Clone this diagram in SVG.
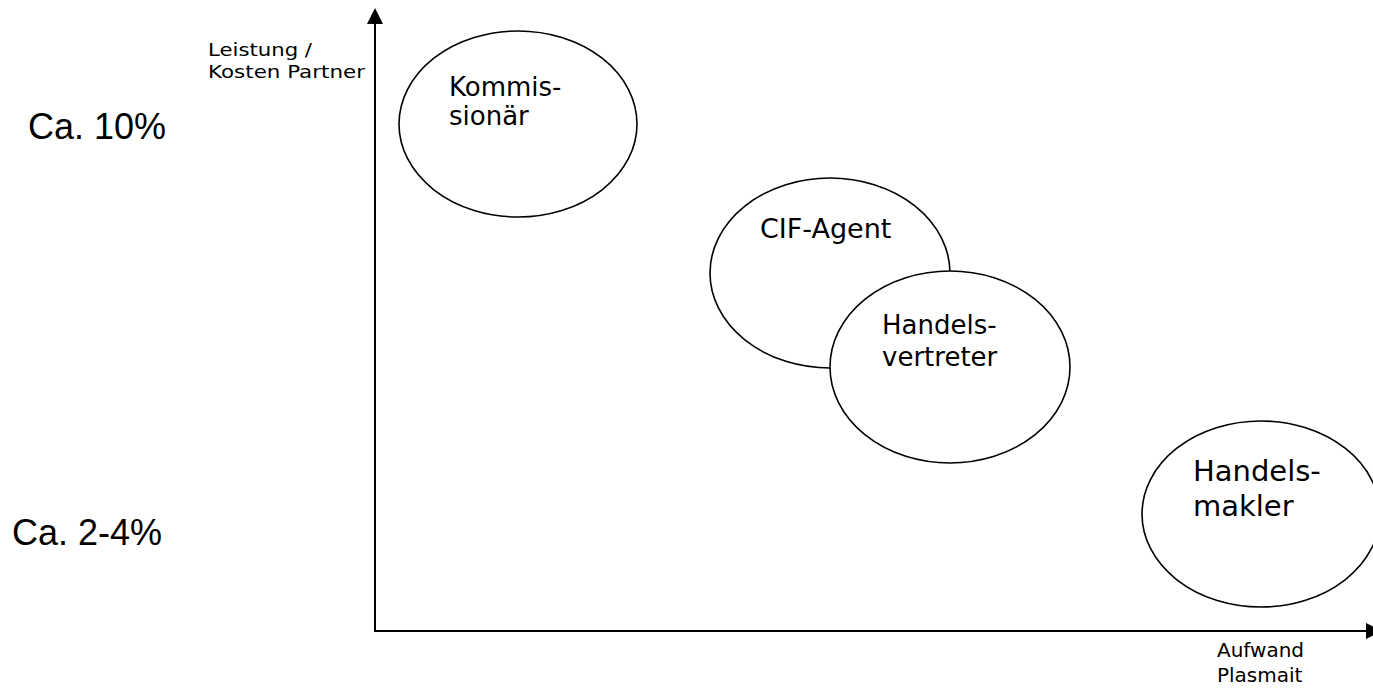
<svg xmlns="http://www.w3.org/2000/svg" width="1373" height="689" viewBox="0 0 1373 689">
<style>
.ell{fill:#fff;stroke:#000;stroke-width:1.6}
.ax{stroke:#000;stroke-width:2;fill:none}
.v{font-family:"DejaVu Sans",Verdana,sans-serif;fill:#000}
.a{font-family:"Liberation Sans",Arial,sans-serif;fill:#000;font-size:36px}
</style>
<rect width="1373" height="689" fill="#fff"/>
<g id="axes">
<line class="ax" x1="375" y1="631" x2="375" y2="22"/>
<line class="ax" x1="374" y1="631" x2="1368" y2="631"/>
<polygon points="375,8 367,24 383,24" fill="#000"/>
<polygon points="1382,631 1366,623 1366,639" fill="#000"/>
</g>
<g id="labels">
<text class="v" font-size="18" x="208" y="56" textLength="104" lengthAdjust="spacingAndGlyphs">Leistung /</text>
<text class="v" font-size="18" x="208" y="78" textLength="157" lengthAdjust="spacingAndGlyphs">Kosten Partner</text>
<text class="a" x="28" y="139">Ca. 10%</text>
<text class="a" x="12" y="545">Ca. 2-4%</text>
<text class="v" font-size="20" x="1217" y="657">Aufwand</text>
<text class="v" font-size="20" x="1217" y="682">Plasmait</text>
</g>
<g id="kommissionaer">
<ellipse class="ell" cx="518" cy="124" rx="119" ry="93"/>
<text class="v" font-size="26" x="449" y="96">Kommis-</text>
<text class="v" font-size="26" x="449" y="125">sionär</text>
</g>
<g id="cif-agent">
<ellipse class="ell" cx="830" cy="273" rx="120" ry="95"/>
<text class="v" font-size="27" x="760" y="238">CIF-Agent</text>
</g>
<g id="handelsvertreter">
<ellipse class="ell" cx="950" cy="367" rx="120" ry="96"/>
<text class="v" font-size="26" x="882" y="334">Handels-</text>
<text class="v" font-size="26" x="882" y="366">vertreter</text>
</g>
<g id="handelsmakler">
<ellipse class="ell" cx="1261" cy="514" rx="119" ry="93"/>
<text class="v" font-size="29" x="1193" y="481">Handels-</text>
<text class="v" font-size="29" x="1193" y="516">makler</text>
</g>
</svg>
